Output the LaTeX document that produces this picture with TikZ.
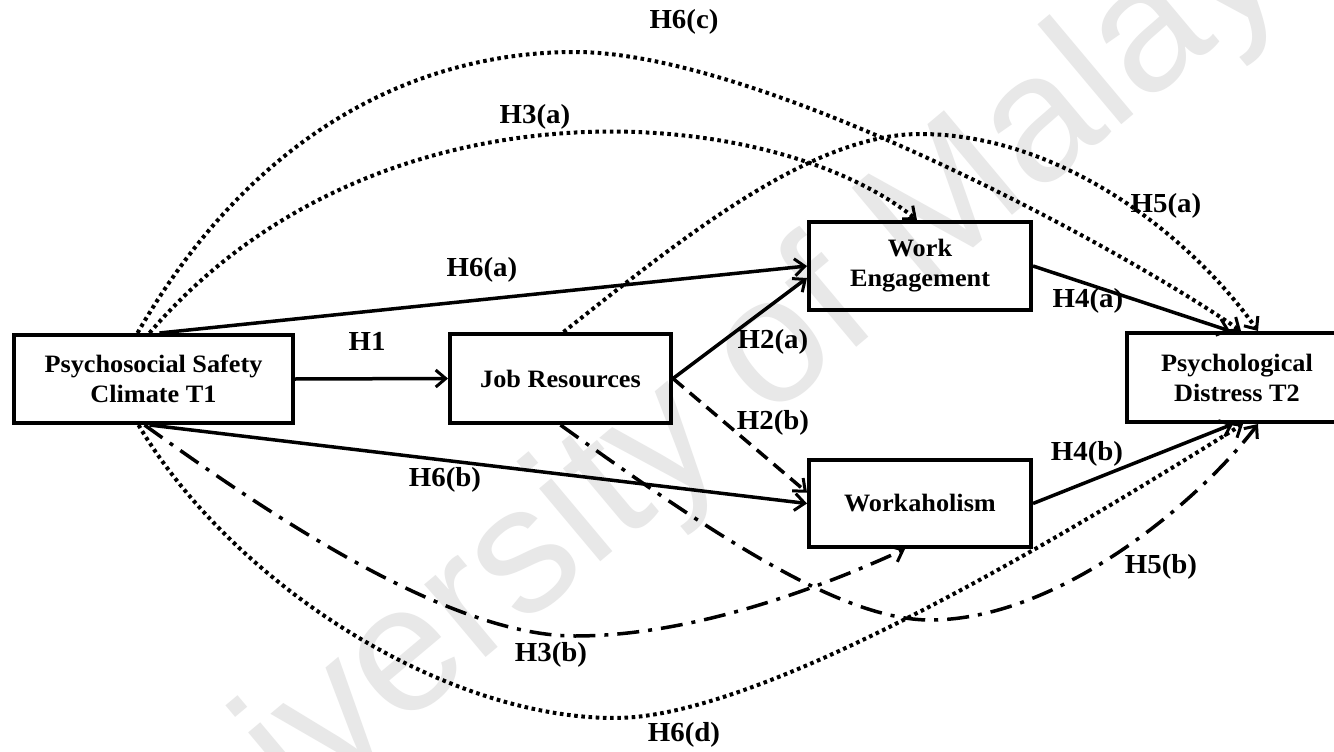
\documentclass[tikz,border=0pt]{standalone}
\usepackage{fontspec}
\setmainfont{Liberation Serif}[FakeStretch=1.05]
\newfontfamily\wmfont{Liberation Sans}
\usetikzlibrary{arrows.meta}

\newcommand\bxfont{\fontsize{25}{30}\selectfont\bfseries}
\newcommand\lbfont{\fontsize{27.5}{30}\selectfont\bfseries}

\tikzset{
  box/.style={draw, line width=4pt, inner sep=0pt, align=center, font=\bxfont},
  lbl/.style={inner sep=0pt, font=\lbfont},
  wm/.style={text=black!9, font=\wmfont\fontsize{180}{180}\selectfont, rotate=40, inner sep=0pt},
  arr/.style={-{Straight Barb[length=10pt,width=17pt,line width=3pt]}},
  solidln/.style={arr, line width=3.5pt},
  dotln/.style={arr, line width=4pt, dash pattern=on 3.6pt off 3.6pt},
  dashln/.style={arr, line width=3.5pt, dash pattern=on 14pt off 8pt},
  dashdotln/.style={arr, line width=3.5pt, dash pattern=on 22pt off 9pt on 4pt off 9pt},
}

\begin{document}
\begin{tikzpicture}[x=1pt,y=-1pt]
\clip (0,0) rectangle (1334,752);
\fill[white] (0,0) rectangle (1334,752);

% background watermark
\node[wm] (wm) at (715,405) {University of Malaya};

% constructs
\node[box, minimum width=279pt, minimum height=88pt] (psc) at (153.5,379) {Psychosocial Safety\\Climate T1};
\node[box, minimum width=221pt, minimum height=89pt] (jr) at (560.5,378.5) {Job Resources};
\node[box, minimum width=222pt, minimum height=88pt] (we) at (920,266) {Work\\Engagement};
\node[box, minimum width=222pt, minimum height=87pt] (wh) at (920,503.5) {Workaholism};
\node[box, minimum width=220pt, minimum height=89pt] (pd) at (1237,377.5) {Psychological\\Distress T2};

% direct paths
\draw[solidln] (psc.east) -- (jr.west);
\draw[solidln] ([xshift=6pt]psc.north) -- (we.west);
\draw[solidln] ([xshift=-4pt]psc.south) -- (wh.west);
\draw[solidln] (jr.east) -- ([yshift=-12pt]we.west);
\draw[dashln] (jr.east) -- ([yshift=11pt]wh.west);
\draw[solidln] (we.east) -- ([xshift=-7pt]pd.north);
\draw[solidln] (wh.east) -- ([xshift=-4pt]pd.south);

% mediated paths above
\draw[dotln] ([xshift=-16pt]psc.north) .. controls (260,120) and (430,52) .. (575,52)
  .. controls (760,52) and (1121,248) .. ([xshift=4pt]pd.north);
\draw[dotln] ([xshift=-4pt]psc.north) .. controls (375,70) and (770,102) .. ([xshift=-3pt]we.north);
\draw[dotln] ([xshift=3pt]jr.north) .. controls (680,240) and (810,134) .. (920,134)
  .. controls (1060,134) and (1190,235) .. ([xshift=21pt]pd.north);

% mediated paths below
\draw[dotln] ([xshift=-15pt]psc.south) .. controls (230,580) and (440,718) .. (615,718)
  .. controls (770,718) and (1093,517) .. ([xshift=6pt]pd.south);
\draw[dashdotln] ([xshift=-9pt]psc.south) .. controls (274,518) and (450,636) .. (575,636)
  .. controls (700,636) and (835,581) .. ([xshift=-15pt]wh.south);
\draw[dashdotln] (jr.south) .. controls (711,533) and (840,620) .. (930,620)
  .. controls (1060,620) and (1200,500) .. ([xshift=21pt]pd.south);

% hypothesis labels
\node[lbl] (h6c) at (684,22) {H6(c)};
\node[lbl] (h3a) at (535,117) {H3(a)};
\node[lbl] (h6a) at (482,270) {H6(a)};
\node[lbl] (h1) at (367,341) {H1};
\node[lbl] (h5a) at (1166,206) {H5(a)};
\node[lbl] (h4a) at (1088,301) {H4(a)};
\node[lbl] (h2a) at (773,342) {H2(a)};
\node[lbl] (h2b) at (773,423) {H2(b)};
\node[lbl] (h4b) at (1087,454) {H4(b)};
\node[lbl] (h6b) at (445,480) {H6(b)};
\node[lbl] (h5b) at (1161,567) {H5(b)};
\node[lbl] (h3b) at (551,655) {H3(b)};
\node[lbl] (h6d) at (684,735) {H6(d)};
\end{tikzpicture}
\end{document}
